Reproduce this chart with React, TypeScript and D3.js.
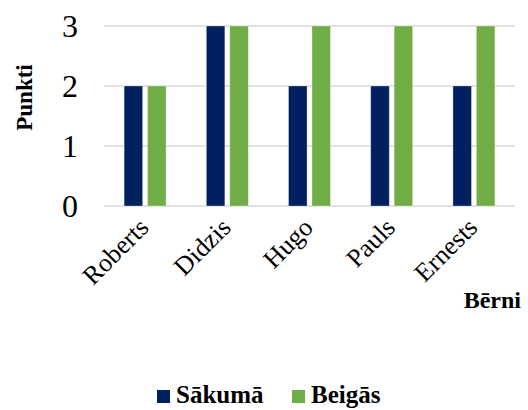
import React from "react";
import * as d3 from "d3";

const categories = ["Roberts", "Didzis", "Hugo", "Pauls", "Ernests"];
const seriesNames = ["Sākumā", "Beigās"];
const sakuma = [2, 3, 2, 2, 2];
const beigas = [2, 3, 3, 3, 3];
const yTicks = [0, 1, 2, 3];
const colors = ["#002060", "#70AD47"];

const W = 528;
const H = 410;
const FONT = "'Liberation Serif', 'Times New Roman', serif";

export default function App() {
  const x = d3.scaleBand<string>().domain(categories).range([104, 515]).paddingInner(0.49).paddingOuter(0.245);
  const xi = d3.scaleBand<string>().domain(seriesNames).range([0, x.bandwidth()]).paddingInner(0.21);
  const y = d3.scaleLinear().domain([0, 3]).range([206, 26]);
  const series = [sakuma, beigas];

  return (
    <svg width={W} height={H} style={{ position: "absolute", left: 0, top: 0, background: "#fff" }} fontFamily={FONT}>
      {yTicks.map((t) => (
        <g key={t}>
          <line x1={104} x2={515} y1={y(t)} y2={y(t)} stroke="#d9d9d9" strokeWidth={1.5} />
          <text x={78} y={y(t)} dy="0.34em" textAnchor="end" fontSize={32} fill="#000">
            {t}
          </text>
        </g>
      ))}
      {series.map((vals, si) =>
        categories.map((c, ci) => (
          <rect
            key={si + "-" + c}
            x={(x(c) as number) + (xi(seriesNames[si]) as number)}
            y={y(vals[ci])}
            width={xi.bandwidth()}
            height={y(0) - y(vals[ci])}
            fill={colors[si]}
            stroke="#fff"
            strokeOpacity={0.4}
            strokeWidth={0.75}
          />
        ))
      )}
      {categories.map((c) => {
        const cx = (x(c) as number) + x.bandwidth() / 2;
        const tx = cx + 5;
        const ty = 229;
        return (
          <g key={c} transform={`translate(${tx},${ty})`}>
            <text transform="rotate(-45)" textAnchor="end" fontSize={26} fill="#000">
              {c}
            </text>
          </g>
        );
      })}
      <text x={521} y={308} textAnchor="end" fontSize={24} fontWeight="bold" fill="#000">
        Bērni
      </text>
      <text transform={`translate(32,97.5) rotate(-90)`} textAnchor="middle" fontSize={23} fontWeight="bold" fill="#000">
        Punkti
      </text>
      {seriesNames.map((s, i) => {
        const lx = i === 0 ? 157 : 292;
        return (
          <g key={s}>
            <rect x={lx} y={390} width={13} height={13} fill={colors[i]} />
            <text x={lx + 19} y={403} fontSize={25} fontWeight="bold" fill="#000">
              {s}
            </text>
          </g>
        );
      })}
    </svg>
  );
}
